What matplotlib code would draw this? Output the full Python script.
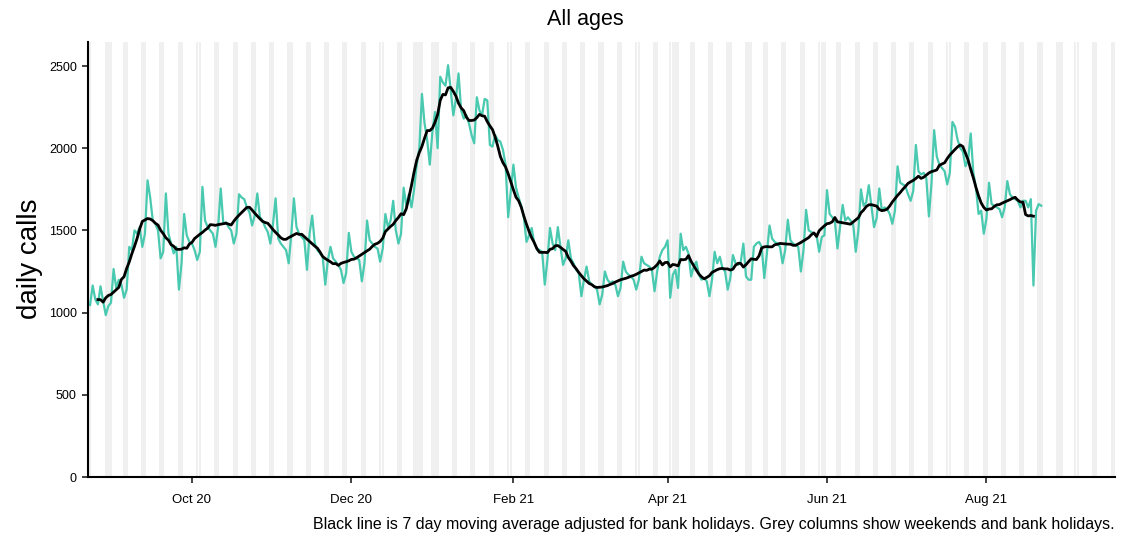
import matplotlib
matplotlib.use('Agg')
import matplotlib.pyplot as plt
import pandas as pd

plt.rcParams['font.family'] = ['Liberation Sans', 'DejaVu Sans']

# ---------------- data ----------------
start_date = '2020-08-23'
# daily calls, first value is Sun 23 Aug 2020, then rows Mon..Sun
calls = [
    1046,
    1165, 1080, 1050, 1160, 1070, 985, 1040,
    1060, 1265, 1150, 1200, 1170, 1090, 1140,
    1400, 1380, 1500, 1480, 1520, 1400, 1480,
    1805, 1700, 1560, 1540, 1500, 1330, 1370,
    1725, 1480, 1420, 1360, 1400, 1140, 1300,
    1600, 1470, 1430, 1420, 1380, 1320, 1370,
    1765, 1560, 1520, 1500, 1480, 1400, 1520,
    1755, 1540, 1550, 1520, 1500, 1420, 1480,
    1720, 1700, 1690, 1640, 1610, 1530, 1590,
    1725, 1580, 1560, 1520, 1490, 1420, 1540,
    1695, 1450, 1420, 1400, 1380, 1300, 1475,
    1695, 1520, 1480, 1460, 1440, 1260, 1480,
    1590, 1420, 1380, 1360, 1340, 1170, 1320,
    1400, 1330, 1310, 1290, 1260, 1180, 1240,
    1485, 1370, 1340, 1330, 1320, 1190, 1300,
    1560, 1440, 1420, 1400, 1390, 1310, 1390,
    1600, 1520, 1560, 1680, 1500, 1420, 1480,
    1760, 1650, 1720, 1640, 1750, 1900, 2000,
    2330, 2150, 2050, 1900, 2100, 2220, 2000,
    2435, 2400, 2380, 2505, 2350, 2200, 2300,
    2455, 2230, 2180, 2200, 2150, 2080, 2030,
    2310, 2230, 2200, 2300, 2290, 2020, 2010,
    2080, 2050, 2040, 1990, 1900, 1580, 1740,
    1900, 1760, 1700, 1650, 1580, 1430, 1470,
    1515, 1420, 1390, 1380, 1370, 1170, 1320,
    1515, 1420, 1380, 1520, 1400, 1290, 1330,
    1440, 1330, 1300, 1260, 1240, 1100, 1200,
    1280, 1190, 1170, 1160, 1140, 1050, 1110,
    1250, 1200, 1180, 1190, 1170, 1100, 1150,
    1310, 1250, 1230, 1220, 1200, 1140, 1200,
    1340, 1300, 1290, 1280, 1260, 1130, 1250,
    1340, 1380, 1400, 1440, 1090, 1230, 1260,
    1150, 1480, 1380, 1400, 1360, 1220, 1280,
    1310, 1230, 1200, 1210, 1190, 1100, 1200,
    1370, 1300, 1340, 1270, 1250, 1140, 1210,
    1350, 1300, 1290, 1310, 1420, 1220, 1200,
    1200, 1400, 1420, 1430, 1400, 1210, 1360,
    1530, 1450, 1430, 1420, 1400, 1300, 1380,
    1565, 1440, 1420, 1410, 1400, 1250, 1380,
    1625, 1500, 1490, 1480, 1470, 1370, 1460,
    1470, 1745, 1600, 1580, 1560, 1390, 1520,
    1655, 1560, 1580, 1560, 1540, 1370, 1500,
    1750, 1650, 1670, 1775, 1650, 1520, 1575,
    1755, 1620, 1640, 1630, 1600, 1540, 1620,
    1890, 1790, 1780, 1770, 1720, 1680, 1740,
    2020, 1860, 1840, 1850, 1820, 1585, 1790,
    2110, 1950, 1900, 1880, 1860, 1780, 1850,
    2160, 2130, 2050, 2000, 1980, 1890, 1930,
    2090, 1850, 1760, 1600, 1620, 1480, 1570,
    1790, 1660, 1650, 1640, 1630, 1580, 1640,
    1800, 1720, 1700, 1690, 1680, 1640, 1680,
    1680, 1640, 1690, 1165, 1620, 1660, 1650,
]
bank_holidays = ['2020-08-31', '2020-12-25', '2020-12-28', '2021-01-01',
                 '2021-04-02', '2021-04-05', '2021-05-03', '2021-05-31',
                 '2021-08-30']
y_ticks = [0, 500, 1000, 1500, 2000, 2500]
x_tick_dates = ['2020-10-01', '2020-12-01', '2021-02-01',
                '2021-04-01', '2021-06-01', '2021-08-01']
x_tick_labels = ['Oct 20', 'Dec 20', 'Feb 21', 'Apr 21', 'Jun 21', 'Aug 21']
title = 'All ages'
ylabel = 'daily calls'
caption = ('Black line is 7 day moving average adjusted for bank holidays. '
           'Grey columns show weekends and bank holidays.')

# ---------------- derived ----------------
dates = pd.date_range(start_date, periods=len(calls), freq='D')
series = pd.Series(calls, index=dates)
moving_avg = series.rolling(7, center=True).mean()

W, H = 1128, 533
fig = plt.figure(figsize=(W / 100, H / 100), dpi=100)
ax = fig.add_axes([88 / W, 56 / H, (1115 - 88) / W, (491 - 56) / H])

ymax = 2646
xmin = pd.Timestamp('2020-08-22 05:00')
xmax = pd.Timestamp('2021-09-19 05:00')

span_days = pd.date_range('2020-08-22', '2021-09-20', freq='D')
bh = set(pd.to_datetime(bank_holidays))
grey_days = [d for d in span_days if d.weekday() >= 5 or d in bh]
ax.bar(grey_days, [ymax] * len(grey_days), width=0.95, bottom=0,
       color='#f0f0f0', linewidth=0, zorder=0)

ax.plot(dates, calls, color='#48C9B0', lw=1.6, zorder=2)
ax.plot(moving_avg.index, moving_avg.values, color='black', lw=2.0, zorder=3)

ax.set_xlim(xmin, xmax)
ax.set_ylim(0, ymax)
ax.set_yticks(y_ticks)
ax.set_yticklabels([str(v) for v in y_ticks])
ax.set_xticks(pd.to_datetime(x_tick_dates))
ax.set_xticklabels(x_tick_labels)

for side in ['top', 'right']:
    ax.spines[side].set_visible(False)
for side in ['left', 'bottom']:
    ax.spines[side].set_linewidth(1.5)
    ax.spines[side].set_color('black')
ax.tick_params(axis='both', direction='out', length=4, width=1.2,
               colors='#222222', labelcolor='black')
ax.tick_params(axis='x', pad=8, labelsize=9.5)
ax.tick_params(axis='y', pad=4, labelsize=9)
ax.set_facecolor('white')

fig.text(585 / W, 1 - 20 / H, title, ha='center', va='center', fontsize=15.5)
fig.text(30 / W, 1 - 259 / H, ylabel, rotation=90, ha='center', va='center',
         fontsize=20)
fig.text(1115 / W, 1 - 524 / H, caption, ha='right', va='center', fontsize=11.5)

fig.savefig('out.png', dpi=100)
